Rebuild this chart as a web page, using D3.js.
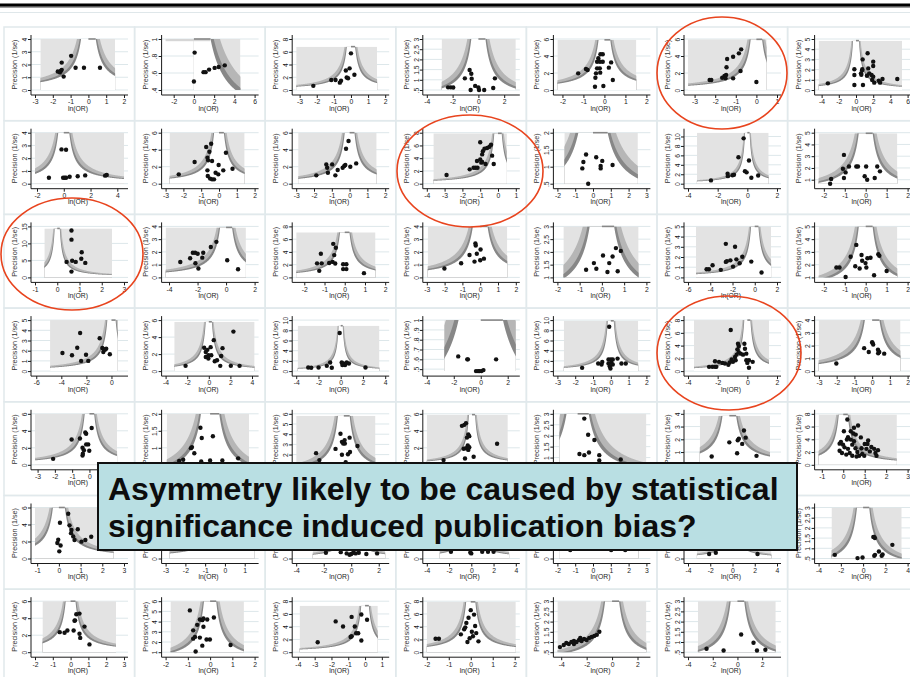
<!DOCTYPE html>
<html><head><meta charset="utf-8">
<script src="https://cdn.jsdelivr.net/npm/d3@7"></script>
<style>
html,body{margin:0;padding:0;background:#fff;}
svg{display:block;font-family:"Liberation Sans",Arial,sans-serif;}
</style>
</head><body>
<svg id="chart" width="910" height="677"></svg>
<script>
// ---- Study data: [ln(OR), precision] per meta-analysis, row by row ----
const pts_1_1 = [[-1.5,2.15],[-0.97,2.68],[-1.5,1.58],[-1.72,1.45],[-1.6,1.38],[-1.55,1.5],[-1.39,1.05],[-0.72,1.75],[-0.25,1.75],[0.65,1.75]];
const pts_1_2 = [[0.07,0.84],[0,0.5],[0.95,0.61],[1.15,0.61],[1.5,0.64],[2.05,0.66],[2.45,0.67],[3.05,0.69]];
const pts_1_3 = [[-2.2,0.65],[-1.15,1.57],[-0.9,1.57],[-0.65,1.15],[-0.58,1.45],[-0.3,3.05],[-0.25,1.95],[-0.17,1.85],[-0.08,3.4],[0,5.75],[0.2,2.4]];
const pts_1_4 = [[-2.35,0.63],[-2.15,0.63],[-1.95,0.62],[-1.05,1.07],[-0.68,1.48],[-0.55,1.3],[-0.52,1.05],[-0.25,0.7],[-0.6,0.5],[0,0.62],[0.05,0.5],[0.45,0.5],[1.15,0.6],[1.28,1.07]];
const pts_1_5 = [[-1.25,1.96],[-0.88,2.47],[-0.8,2.35],[-0.45,0.39],[-0.43,1.45],[-0.4,1.96],[-0.35,2.55],[-0.35,3.33],[-0.29,3.73],[-0.19,4.2],[-0.08,4.2],[-0.22,2.55],[-0.21,3.33],[-0.2,2.04],[-0.08,3.33],[-0.05,0.47],[0.21,2.63],[0.32,3.25],[0.4,1.18]];
const pts_1_6 = [[-2.27,1.18],[-2.19,1.18],[-1.66,1.45],[-1.55,1.65],[-1.47,1.76],[-1.5,1.37],[-1.45,2.67],[-1.42,3.65],[-1.13,3.92],[-1.13,1.37],[-0.85,4.31],[-0.74,4.78],[-0.77,2.24],[0,0.94]];
const pts_1_7 = [[-3.27,0.65],[-0.19,2.03],[-0.19,1.47],[-0.19,0.49],[0.58,1.63],[0.73,2.03],[0.77,3.0],[0.81,0.49],[1.27,1.4],[1.35,3.6],[1.42,2.12],[1.54,1.63],[1.81,1.47],[1.88,0.98],[2.0,2.78],[2.0,2.35],[2.0,1.31],[2.12,0.72],[2.65,0.92],[2.8,0.72],[3.08,1.08],[4.8,1.08],[0.7,1.9],[0.62,1.5]];

const pts_2_1 = [[-1.11,0.47],[-0.17,2.69],[0.17,2.66],[-0.05,0.47],[0.07,0.47],[0.17,0.47],[0.44,0.55],[1.04,0.58],[1.6,0.65],[3.09,0.63],[3.21,0.68]];
const pts_2_2 = [[-2.26,1.1],[-1.37,2.55],[-0.72,4.31],[-0.44,4.7],[-0.54,3.76],[-0.65,3.06],[-0.61,2.75],[-0.65,1.57],[-0.63,0.9],[-0.39,2.67],[-0.39,0.51],[-0.28,0.51],[-0.19,1.29],[-0.02,2.2],[-0.04,1.1],[0.24,1.57],[0.39,3.65],[0.76,1.76],[-0.5,0.6]];
const pts_2_3 = [[-1.87,0.98],[-1.31,2.27],[-1.26,1.88],[-1.22,1.29],[-0.98,2.27],[-0.8,0.98],[-0.67,1.61],[-0.39,1.88],[-0.3,2.08],[-0.24,2.2],[-0.2,4.12],[-0.06,5.02],[0.04,2.0],[0.37,2.39]];
const pts_2_4 = [[-2.89,1.36],[-1.59,2.25],[-1.37,2.5],[-1.26,2.5],[-1.18,3.55],[-1.15,2.5],[-1.0,6.5],[-1.0,3.8],[-0.94,3.3],[-0.89,4.6],[-0.85,5.1],[-0.76,5.5],[-0.7,3.1],[-0.61,5.6],[-0.48,5.8],[-0.39,6.1],[-0.33,4.4],[-0.24,3.1],[-0.89,3.4]];
const pts_2_5 = [[-0.54,1.14],[-0.39,1.36],[-0.6,0.95],[-0.27,0.5],[0.18,1.28],[0.52,1.17],[0.43,1.02],[0.43,0.95],[1.1,1.05]];
const pts_2_6 = [[-2.45,0.7],[-1.33,2.1],[-1.31,1.6],[-1.0,1.8],[-0.9,1.9],[-0.6,5.6],[-0.25,9.6],[-0.16,2.66],[-0.05,2.4],[0.11,4.9],[0.27,1.26],[0.73,1.74]];
const pts_2_7 = [[-1.7,0.66],[-1.65,1.06],[-1.04,3.11],[-1.09,1.93],[-0.96,1.62],[-1.04,1.14],[-0.8,2.13],[-0.45,2.13],[-0.37,2.13],[-0.05,1.29],[0.07,1.0],[0.02,2.13],[0.43,1.14],[0.55,2.13],[0.68,1.71]];

const pts_3_1 = [[0.64,13.8],[0.64,11.1],[0.67,4.9],[0.64,1.7],[0.42,4.56],[0.83,4.56],[1.1,7.4],[1.08,5.5],[1.26,4.27]];
const pts_3_2 = [[-3.21,1.21],[-2.52,1.5],[-2.33,1.93],[-2.17,1.93],[-1.99,1.86],[-2.15,1.11],[-1.94,0.7],[-1.67,1.55],[-1.6,1.93],[-1.07,2.38],[-0.68,2.79],[0.08,1.34],[0.84,0.64]];
const pts_3_3 = [[-1.37,2.2],[-1.26,1.03],[-1.14,2.2],[-1.18,3.7],[-0.77,2.27],[-0.6,2.43],[-0.57,5.26],[-0.52,3.5],[-0.44,4.64],[-0.47,2.17],[-0.08,2.06],[0.08,2.06],[-0.08,1.3],[0.08,1.3],[0.95,0.67]];
const pts_3_4 = [[-2.01,0.7],[-1.07,1.11],[-0.6,1.76],[-0.27,2.66],[-0.25,2.5],[-0.19,1.86],[-0.32,1.24],[0.02,2.19],[0,1.34],[0.21,1.47]];
const pts_3_5 = [[-0.71,1.3],[-0.36,1.56],[-0.25,1.34],[0.05,1.86],[0.25,1.21],[0.33,1.56],[0.48,1.82],[0.63,2.15],[0.71,1.24],[0.85,2.04]];
const pts_3_6 = [[-4.33,0.8],[-4.12,0.8],[-3.79,1.19],[-3.05,0.74],[-2.6,3.29],[-2.6,1.52],[-2.5,1.6],[-2.19,1.67],[-1.77,3.0],[-1.95,1.06],[-1.65,1.77],[-1.36,1.38],[-1.12,2.03],[-0.31,1.55],[0.61,0.48]];
const pts_3_7 = [[-1.25,1.78],[-1.4,1.78],[-0.96,1.03],[-0.72,2.62],[-0.45,3.55],[-0.5,1.87],[-0.2,2.76],[-0.17,2.3],[-0.29,1.7],[-0.01,2.12],[0.08,2.5],[0.03,1.78],[0.23,2.54],[0.4,1.17],[0.6,2.82],[0.65,2.7],[1.0,1.5]];

const pts_4_1 = [[-3.91,1.77],[-3.15,1.55],[-2.73,2.29],[-2.5,3.74],[-2.42,1.0],[-2.03,1.61],[-1.85,1.0],[-0.94,3.22],[-0.73,2.26],[-0.65,1.87],[-0.52,2.1],[-0.42,2.2],[-0.6,2.15],[-0.13,1.65]];
const pts_4_2 = [[-2.15,0.62],[-0.43,2.75],[-0.28,2.24],[-0.13,2.5],[-0.28,1.66],[-0.04,1.47],[-0.04,1.86],[0.17,2.82],[0.23,1.86],[0.46,3.64],[0.55,1.16],[0.76,1.28],[1.15,1.78],[1.27,2.7],[1.06,0.62],[2.28,4.65],[2.04,0.62],[2.85,0.62]];
const pts_4_3 = [[-2.92,0.71],[-2.65,0.65],[-1.99,0.71],[-1.25,1.03],[-0.95,1.68],[-0.8,0.65],[-0.09,7.48],[0.09,1.68],[0.24,1.5],[0.39,1.2],[0.54,1.68],[0.74,1.5],[0.15,1.2],[2.23,0.71]];
const pts_4_4 = [[-1.67,0.63],[-1.0,0.6],[-0.95,0.6],[1.14,0.6],[-0.35,0.48],[-0.2,0.48],[-0.1,0.48],[0.05,0.48],[0.2,0.49]];
const pts_4_5 = [[-1.61,0.64],[-0.71,1.49],[-0.52,1.3],[-0.48,1.8],[-0.13,2.26],[-0.13,1.49],[-0.06,0.97],[-0.02,0.52],[0,2.26],[0.03,1.66],[0.11,2.26],[0.11,1.3],[-0.09,8.7],[0.38,2.45],[0.6,1.49],[0.84,1.49]];
const pts_4_6 = [[-2.58,0.67],[-2.36,0.67],[-2.18,0.67],[-2.09,0.67],[-2.18,1.55],[-1.91,1.45],[-1.68,1.29],[-1.51,1.19],[-1.19,1.35],[-1.28,0.98],[-1.12,6.45],[-1.06,1.81],[-0.97,1.45],[-0.83,2.22],[-0.79,1.7],[-0.72,2.58],[-0.67,3.41],[-0.58,3.92],[-0.63,4.28],[-0.58,2.97],[-0.45,2.74],[-0.29,2.58],[-0.2,4.28],[-0.16,3.5],[-0.07,2.74],[-0.07,1.7],[0,1.29],[0.11,1.7],[0.11,0.52],[0.36,1.45]];
const pts_4_7 = [[-2.02,0.6],[-0.45,1.8],[-0.19,1.5],[0,2.27],[0.02,2.2],[0.06,2.08],[0.33,1.68],[0.34,1.4],[0.68,1.37],[0.4,1.5]];

const pts_5_1 = [[-2.1,0.7],[-1.03,2.98],[-0.55,3.1],[-0.24,3.8],[-0.19,3.65],[-0.4,2.01],[-0.32,1.72],[-0.4,1.08],[-0.38,1.3],[-0.07,2.4],[-0.19,2.4],[-0.01,1.66],[0.13,4.33]];
const pts_5_2 = [[-2.78,0.61],[-2.42,0.65],[-1.72,0.99],[-1.63,1.02],[-1.42,0.84],[-0.87,1.59],[-0.75,1.29],[0.25,1.34],[-0.8,0.6],[0,0.63],[1.1,0.63],[2.52,0.69]];
const pts_5_3 = [[-1.34,2.14],[-1.18,1.46],[-0.4,2.56],[-0.16,4.04],[-0.09,3.25],[-0.03,3.08],[0.05,3.08],[0.04,3.42],[-0.09,1.98],[0.09,1.26],[0.2,2.04],[0.28,3.66],[0.3,2.26],[0.66,2.84]];
const pts_5_4 = [[-2.6,0.55],[-0.92,4.58],[-0.7,4.7],[-0.55,4.9],[-0.46,3.2],[-0.34,3.57],[-0.25,3.37],[-0.64,0.74],[-0.76,1.88],[-0.55,1.95],[-0.39,2.28],[-0.34,1.75],[-0.25,2.06],[0.15,0.95],[2.29,2.48]];
const pts_5_5 = [[0.33,2.78],[0.52,2.04],[0.83,1.8],[0.09,1.16],[0.33,1.11],[0.56,1.23],[1.07,1.11],[1.07,0.87],[2.13,0.91],[2.78,0.67]];
const pts_5_6 = [[-1.11,0.65],[0,1.76],[0.49,0.9],[0.53,1.93],[0.6,2.05],[0.81,1.64],[0.92,2.69],[1.03,2.13],[1.71,0.7]];
const pts_5_7 = [[0.19,7.1],[0.03,5.27],[0.5,5.8],[0.69,6.16],[0.58,4.74],[0.22,4.32],[0.35,3.95],[-0.17,3.32],[-0.01,3.16],[-0.17,2.21],[-0.06,1.84],[0.17,3.95],[0.06,2.74],[0.22,2.5],[0.3,1.84],[0.42,3.16],[0.5,3.7],[0.57,2.6],[0.66,2.0],[0.74,1.42],[0.82,4.3],[0.85,2.6],[0.88,1.7],[1.0,3.27],[1.08,2.5],[1.16,3.8],[1.24,2.1],[1.31,2.8],[1.44,2.5],[1.5,1.84],[1.55,1.42],[0.42,1.42],[0.62,1.3],[0.14,1.6],[-0.11,3.6],[0.35,5.27],[0.47,4.9],[0.98,1.4],[1.62,2.3],[1.13,3.27]];

const pts_6_1 = [[0.05,4.2],[-0.03,2.21],[-0.07,1.83],[0.08,1.53],[0.02,0.84],[0.43,5.27],[0.49,3.9],[0.58,3.36],[0.56,2.98],[0.66,2.6],[0.72,2.18],[0.87,3.44],[1.04,1.98],[1.22,2.18],[1.49,2.56]];
const pts_6_2 = [[-1.5,2.5],[-1.0,3.2],[-0.8,2.2],[-0.6,3.8],[-0.4,2.9],[-0.2,4.5]];
const pts_6_3 = [[-1.84,0.9],[-0.76,1.0],[-0.33,0.8],[-0.12,0.6],[0,0.7],[0.15,0.9],[0.32,0.8],[0.55,0.9],[1.1,0.7],[1.88,0.8],[-0.3,3],[0.1,5.5],[0.2,2.5]];
const pts_6_4 = [[-1.83,0.8],[-0.09,0.7],[0,0.6],[0.98,0.8],[1.5,0.8],[2.0,0.8],[-0.5,2.5],[0.3,3.5],[-0.2,4.8]];
const pts_6_5 = [[-1.28,0.5],[1.02,0.5],[1.81,0.5],[-0.5,1.5],[0.3,2.2],[0.6,1.2],[-0.2,1.9]];
const pts_6_6 = [[-2.1,0.7],[-1.5,0.9],[2.25,0.7],[0.5,2],[1,3.5],[-0.5,4]];
const pts_6_7 = [[-2.54,0.68],[-0.5,0.52],[-0.05,0.55],[0.92,1.56],[0.99,1.56],[1.06,1.5],[1.0,0.63],[1.07,0.68],[1.42,0.84],[1.67,0.63],[1.75,0.7],[2.63,1.17]];

const pts_7_1 = [[-0.61,2.36],[-0.34,2.29],[-0.18,2.56],[0.17,2.56],[0.22,3.7],[0.25,3.75],[0.32,4.47],[0.5,4.54],[0.5,2.17],[0.54,1.68],[0.78,3.01],[1.06,0.92]];
const pts_7_2 = [[-0.91,5.1],[-0.76,3.14],[-0.68,2.5],[-0.76,2.33],[-0.65,1.07],[-0.58,3.68],[-0.46,4.2],[-0.35,4.14],[-0.3,3.5],[-0.3,4.3],[-0.46,2.43],[-0.35,1.64],[-0.13,4.2],[-0.16,2.25],[-0.01,2.25],[0.17,4.4],[0.92,1.71]];
const pts_7_3 = [[-2.82,1.57],[-1.75,4.83],[-1.31,4.02],[-0.8,5.54],[-0.61,4.02],[-0.53,2.98],[-0.86,2.38],[-0.8,2.5],[-0.41,2.98],[-0.22,1.84],[-0.22,5.92],[0.12,5.1]];
const pts_7_4 = [[-1.6,2.1],[-1.45,2.1],[-0.45,2.8],[-0.3,3.6],[-0.2,4.6],[-0.1,5.4],[0,6.6],[0.05,3.2],[0.1,2.5],[-0.15,1.6],[0.2,4.1],[0.25,3.0],[-0.05,2.2],[0.35,1.7],[-0.25,3.9],[0.15,5.9]];
const pts_7_5 = [[-4.1,0.75],[-3.8,0.85],[-3.6,0.95],[-3.4,0.9],[-3.2,1.0],[-3.0,1.05],[-2.8,1.0],[-2.6,1.1],[-2.4,1.05],[-2.2,1.15],[-2.0,1.1],[-1.8,1.2],[-1.6,1.25],[-1.4,1.3],[-1.2,1.35],[-1.0,1.5],[-2.5,1.2],[-3.0,0.9]];
const pts_7_6 = [[-2.5,0.67],[-1.12,0.58],[0.3,1.37],[1.3,0.96],[1.58,0.58],[2.26,0.62]];

const pointSets = [
  pts_1_1, pts_1_2, pts_1_3, pts_1_4, pts_1_5, pts_1_6, pts_1_7,
  pts_2_1, pts_2_2, pts_2_3, pts_2_4, pts_2_5, pts_2_6, pts_2_7,
  pts_3_1, pts_3_2, pts_3_3, pts_3_4, pts_3_5, pts_3_6, pts_3_7,
  pts_4_1, pts_4_2, pts_4_3, pts_4_4, pts_4_5, pts_4_6, pts_4_7,
  pts_5_1, pts_5_2, pts_5_3, pts_5_4, pts_5_5, pts_5_6, pts_5_7,
  pts_6_1, pts_6_2, pts_6_3, pts_6_4, pts_6_5, pts_6_6, pts_6_7,
  pts_7_1, pts_7_2, pts_7_3, pts_7_4, pts_7_5, pts_7_6
];

// ---- Axis tick values per panel ----
const xTickSets = [
  [-3,-2,-1,0,1,2], [-2,0,2,4,6], [-3,-2,-1,0,1,2], [-4,-2,0,2], [-2,-1,0,1,2], [-3,-2,-1,0,1], [-4,-2,0,2,4,6],
  [-2,0,2,4], [-3,-2,-1,0,1,2], [-3,-2,-1,0,1,2], [-4,-3,-2,-1,0,1], [-2,-1,0,1,2,3], [-4,-2,0,2], [-2,-1,0,1,2],
  [-1,0,1,2,3], [-4,-2,0,2], [-2,-1,0,1,2], [-3,-2,-1,0,1,2], [-2,-1,0,1,2], [-6,-4,-2,0,2], [-2,-1,0,1,2],
  [-6,-4,-2,0], [-4,-2,0,2,4], [-4,-2,0,2,4], [-4,-2,0,2], [-3,-2,-1,0,1,2], [-4,-2,0,2], [-3,-2,-1,0,1,2],
  [-3,-2,-1,0,1,2], [-4,-2,0,2,4], [-2,-1,0,1,2], [-4,-2,0,2,4], [-1,0,1,2,3], [-2,0,2], [-1,0,1,2,3],
  [-1,0,1,2,3], [-3,-2,-1,0,1], [-4,-2,0,2], [-4,-2,0,2,4], [-2,-1,0,1,2,3], [-4,-2,0,2,4], [-4,-2,0,2,4],
  [-2,-1,0,1,2,3], [-2,-1,0,1,2], [-4,-3,-2,-1,0,1], [-2,-1,0,1,2], [-4,-2,0,2], [-4,-2,0,2]
];
const yTickSets = [
  [0,1,2,3,4], [.4,.6,.8,1], [0,2,4,6,8], [.5,1,1.5,2,2.5,3], [0,2,4,6], [0,2,4,6], [0,1,2,3,4,5],
  [0,1,2,3,4], [0,2,4,6], [0,2,4,6], [0,2,4,6,8], [.5,1,1.5,2], [0,2,4,6,8,10], [1,2,3,4,5],
  [0,5,10,15], [0,1,2,3,4], [0,2,4,6,8], [0,1,2,3,4], [1,1.5,2,2.5,3], [0,1,2,3,4,5], [1,2,3,4,5],
  [0,1,2,3,4,5], [0,2,4,6], [0,2,4,6,8,10], [.5,.6,.7,.8,.9,1], [0,2,4,6,8,10], [0,2,4,6,8], [0,1,2,3,4],
  [0,2,4,6], [.5,1,1.5,2], [1,2,3,4,5,6], [0,2,4,6], [1,1.5,2,2.5,3], [0,1,2,3,4], [0,2,4,6,8],
  [0,2,4,6], [0,2,4,6], [0,2,4,6,8], [0,2,4,6], [0,1,2,3], [0,2,4,6,8], [.5,1,1.5,2,2.5,3],
  [0,2,4,6], [1,2,3,4,5,6], [0,2,4,6,8], [0,2,4,6,8], [.5,1,1.5,2,2.5,3], [.5,1,1.5,2,2.5,3]
];

// ---- Extent of the significance contours: ln(OR) span and top precision ----
const contourSpans = [
  [-2.7,1.5], [-2.8,4.6], [-3.2,1.53], [-2.85,2.9], [-2.24,1.52], [-3.32,0.5], [-4.35,5.35],
  [-2.15,4.5], [-2.78,1.44], [-2.89,1.52], [-3.63,0.5], [-1.61,2.52], [-3.4,1.44], [-2.25,1.51],
  [-0.58,2.46], [-4.24,1.39], [-2.4,1.52], [-2.95,1.52], [-1.73,1.65], [-5.28,1.47], [-2.25,1.51],
  [-4.9,0.5], [-3.2,4.24], [-3.87,3.48], [-2.7,2.6], [-2.64,1.54], [-3.6,1.46], [-3.02,1.6],
  [-3.15,1.6], [-3.9,3.5], [-2.3,1.53], [-4.13,3.27], [-0.9,3.4], [-1.86,2.56], [-1.15,2.5],
  [-1.1,2.52], [-2.8,1.5], [-2.8,2.47], [-2.84,3.4], [-1.9,2.55], [-3.2,3.5], [-2.84,3.47],
  [-1.58,2.55], [-1.78,1.52], [-3.9,0.76], [-2.0,2.05], [-4.3,2.7], [-3.2,3.1]
];
const contourTops = [
  4, 1, 6.8, 3, 5.9, 5.96, 4.84,
  4, 6, 6, 7.9, 2, 10.8, 4.95,
  14.4, 3.92, 7.07, 4, 3, 5, 5,
  5, 5.8, 8.9, 1, 9.86, 8, 4,
  6, 2, 5.8, 5.9, 3, 3.85, 7.9,
  6, 6, 7, 5.8, 2.8, 7, 3,
  6, 6, 7.3, 7.9, 3, 3
];
// x ranges that run past the ticks / contours
const xDomainOverrides = {21: [-6.1, 1.0], 33: [-2.6, 3.0], 44: [-4.1, 1.2], 47: [-4, 3.2]};
// panel whose left-hand contour region is not shaded
const leftUnshaded = [1];

// ---- Ellipses around highlighted panels, and the callout ----
const highlightEllipses = [[722,73,65,56],[470,171,73,56],[72,254,71,56],[729,353,72,57]];
const calloutLines = ["Asymmetry likely to be caused by statistical", "significance induced publication bias?"];
const CALLOUT = {x: 98, y: 463, w: 699, h: 87};

// ---- Layout ----
const GRID_X0 = 4, GRID_Y0 = 28, CELL_W = 130.6, CELL_H = 93.7, COLS = 7;
const PLOT = {x0: 31, x1: 120, y0: 62, y1: 11, axisX: 27, axisY: 67, axisEnd: 124, axisTop: 7};
const C = {light: '#e3e3e3', mid: '#b6b6b6', dark: '#878787', grid: '#dde7ea', frame: '#e1e9ec', dot: '#111', ink: '#1a1a1a'};
const Z_BANDS = [[2.576, C.mid], [1.96, C.dark], [1.645, '#ffffff']];
const FONT = '"Liberation Sans", Arial, sans-serif';

const svg = d3.select('#chart');

// heading rule
svg.append('rect').attr('x', 0).attr('y', 3.5).attr('width', 910).attr('height', 3.2).attr('fill', '#000');
svg.append('rect').attr('x', 0).attr('y', 6.7).attr('width', 910).attr('height', 1).attr('fill', '#777');
svg.append('line').attr('x1', 0).attr('x2', 910).attr('y1', 12.5).attr('y2', 12.5).attr('stroke', '#dfe7ea').attr('stroke-width', 1);

const fmt = v => {
  const s = String(+v.toFixed(2));
  return s.replace(/^0\./, '.').replace(/^-0\./, '-.');
};

// polygon of |x| < z / precision, closed below the plot
function bandPath(z, xs, ys, top, bottom, reach) {
  const pLo = z / reach;
  const set = new Set();
  for (let i = 0; i <= 160; i++) set.add(pLo + (top - pLo) * i / 160);
  for (let i = 0; i <= 160; i++) set.add(z / (z / top + (reach - z / top) * i / 160));
  const ps = [...set].filter(p => p >= pLo - 1e-9 && p <= top + 1e-9).sort((a, b) => a - b);
  const poly = [[-reach, bottom]]
    .concat(ps.map(p => [-z / p, p]))
    .concat(ps.slice().reverse().map(p => [z / p, p]))
    .concat([[reach, bottom]]);
  return d3.line().x(d => xs(d[0])).y(d => ys(d[1]))(poly) + 'Z';
}

const panelLayer = svg.append('g');

pointSets.forEach((pts, i) => {
  const r = Math.floor(i / COLS), c = i % COLS;
  const g = panelLayer.append('g').attr('transform', `translate(${GRID_X0 + c * CELL_W},${GRID_Y0 + r * CELL_H})`);
  const xt = xTickSets[i], yt = yTickSets[i], cx = contourSpans[i], ct = contourTops[i];

  const xd = xDomainOverrides[i] || [
    Math.min(xt[0], cx[0], d3.min(pts, d => d[0])),
    Math.max(xt[xt.length - 1], cx[1], d3.max(pts, d => d[0]))
  ];
  const yd = [
    Math.min(yt[0], d3.min(pts, d => d[1])),
    Math.max(yt[yt.length - 1], ct, d3.max(pts, d => d[1]))
  ];
  const xs = d3.scaleLinear().domain(xd).range([PLOT.x0, PLOT.x1]);
  const ys = d3.scaleLinear().domain(yd).range([PLOT.y0, PLOT.y1]);

  // cell frame
  g.append('rect').attr('x', 0).attr('y', -1).attr('width', CELL_W).attr('height', CELL_H)
    .attr('fill', 'none').attr('stroke', C.frame).attr('stroke-width', 1.5);

  // grid lines
  g.append('g').selectAll('line').data(yt).join('line')
    .attr('x1', PLOT.axisX).attr('x2', PLOT.axisEnd)
    .attr('y1', d => ys(d)).attr('y2', d => ys(d))
    .attr('stroke', C.grid).attr('stroke-width', 1);

  // contour-enhanced shading
  const noLeft = leftUnshaded.includes(i);
  const shadeLo = noLeft ? 0 : cx[0];
  const clipId = 'contour-clip-' + i;
  g.append('clipPath').attr('id', clipId).append('rect')
    .attr('x', xs(shadeLo)).attr('y', ys(ct))
    .attr('width', xs(cx[1]) - xs(shadeLo)).attr('height', ys(yd[0]) - ys(ct));
  const shade = g.append('g').attr('clip-path', `url(#${clipId})`);
  shade.append('rect').attr('x', xs(shadeLo)).attr('y', ys(ct))
    .attr('width', xs(cx[1]) - xs(shadeLo)).attr('height', ys(yd[0]) - ys(ct)).attr('fill', C.light);
  const reach = Math.max(Math.abs(cx[0]), Math.abs(cx[1])) + 1;
  Z_BANDS.forEach(([z, fill]) => {
    shade.append('path').attr('d', bandPath(z, xs, ys, ct, yd[0] - 1, reach)).attr('fill', fill);
  });
  if (noLeft) {
    g.append('rect').attr('x', xs(cx[0])).attr('y', ys(ct))
      .attr('width', xs(1.645 / ct) - xs(cx[0])).attr('height', 2.2).attr('fill', '#d6d6d6');
  }
  g.append('line').attr('x1', xs(0)).attr('x2', xs(Math.min(1.645 / ct, cx[1])))
    .attr('y1', ys(ct)).attr('y2', ys(ct)).attr('stroke', C.dark).attr('stroke-width', 1.6);

  // studies
  g.append('g').selectAll('circle').data(pts).join('circle')
    .attr('cx', d => xs(d[0])).attr('cy', d => ys(d[1])).attr('r', 2.2).attr('fill', C.dot);

  // axes
  const gx = g.append('g').attr('transform', `translate(0,${PLOT.axisY})`)
    .call(d3.axisBottom(xs).tickValues(xt).tickSize(3).tickPadding(1.5).tickFormat(fmt));
  gx.select('.domain').remove();
  gx.attr('font-family', FONT).attr('font-size', 6.8);
  gx.selectAll('line').attr('stroke', C.ink);
  gx.selectAll('text').attr('fill', '#222');

  const gy = g.append('g').attr('transform', `translate(${PLOT.axisX},0)`)
    .call(d3.axisLeft(ys).tickValues(yt).tickSize(3).tickFormat(fmt));
  gy.select('.domain').remove();
  gy.attr('font-family', FONT).attr('font-size', 6.8);
  gy.selectAll('line').attr('stroke', C.ink);
  gy.selectAll('text').attr('x', 0).attr('y', 0).attr('dy', 0).attr('fill', '#222')
    .attr('text-anchor', 'middle').attr('transform', 'translate(-4.2,0) rotate(-90)');

  g.append('line').attr('x1', PLOT.axisX).attr('x2', PLOT.axisX).attr('y1', PLOT.axisTop).attr('y2', PLOT.axisY)
    .attr('stroke', C.ink).attr('stroke-width', 1);
  g.append('line').attr('x1', PLOT.axisX).attr('x2', PLOT.axisEnd).attr('y1', PLOT.axisY).attr('y2', PLOT.axisY)
    .attr('stroke', C.ink).attr('stroke-width', 1);

  g.append('text').attr('x', 74).attr('y', 82.5).attr('text-anchor', 'middle')
    .attr('font-family', FONT).attr('font-size', 6.8).attr('fill', '#222').text('ln(OR)');
  g.append('text').attr('transform', `translate(13,${(PLOT.y0 + PLOT.y1) / 2}) rotate(-90)`)
    .attr('text-anchor', 'middle').attr('font-family', FONT).attr('font-size', 7.2).attr('fill', '#333')
    .text('Precision (1/se)');
});

// axis labels that sit entirely beneath the callout are never visible: drop them
panelLayer.selectAll('text').each(function () {
  const b = this.getBoundingClientRect();
  if (b.left >= CALLOUT.x && b.right <= CALLOUT.x + CALLOUT.w &&
      b.top >= CALLOUT.y && b.bottom <= CALLOUT.y + CALLOUT.h) {
    d3.select(this).remove();
  }
});

// highlighted panels
svg.append('g').selectAll('ellipse').data(highlightEllipses).join('ellipse')
  .attr('cx', d => d[0]).attr('cy', d => d[1]).attr('rx', d => d[2]).attr('ry', d => d[3])
  .attr('fill', 'none').attr('stroke', '#e8441e').attr('stroke-width', 1.6);

// callout
const callout = svg.append('g');
callout.append('rect').attr('x', CALLOUT.x).attr('y', CALLOUT.y).attr('width', CALLOUT.w).attr('height', CALLOUT.h)
  .attr('fill', '#b9dfe3').attr('stroke', '#111').attr('stroke-width', 2);
callout.selectAll('text').data(calloutLines).join('text')
  .attr('x', 108).attr('y', (d, k) => 500 + k * 37)
  .attr('font-family', FONT).attr('font-size', 32).attr('font-weight', 'bold').attr('fill', '#0d0d0d')
  .text(d => d);
</script>
</body></html>
